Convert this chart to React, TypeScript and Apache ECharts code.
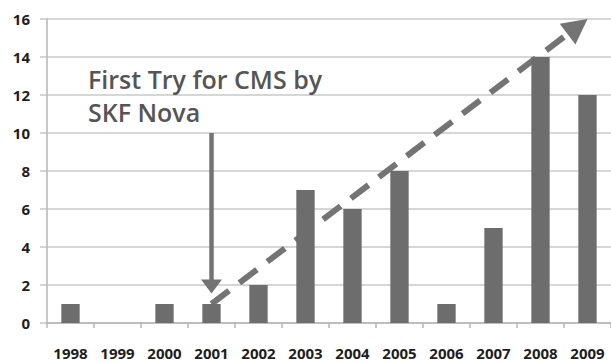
import React, { useEffect, useRef } from "react";
import * as echarts from "echarts";

const years = ["1998", "1999", "2000", "2001", "2002", "2003", "2004", "2005", "2006", "2007", "2008", "2009"];
const counts = [1, 0, 1, 1, 2, 7, 6, 8, 1, 5, 14, 12];
const yTicks = { min: 0, max: 16, interval: 2 };

// annotation anchors, in data units
const noteLines = ["First Try for CMS by", "SKF Nova"];
const pointerFrom: [string, number] = ["2001", 10];
const pointerTip: [string, number] = ["2001", 1.55];
const trendFrom: [string, number] = ["2001", 1];
const trendTo: [string, number] = ["2009", 16];

const BAR = "#6d6d6d";
const ARROW = "#747474";

export default function App() {
  const ref = useRef<HTMLDivElement>(null);

  useEffect(() => {
    document.body.style.margin = "0";
    const chart = echarts.init(ref.current!, null, { renderer: "svg" });
    chart.setOption({
      animation: false,
      grid: { left: 47, right: 0, top: 19, bottom: 40 },
      xAxis: {
        type: "category",
        data: years,
        axisLine: { lineStyle: { color: "#b4b4b4", width: 1.5 } },
        axisTick: { show: true, length: 5, lineStyle: { color: "#b4b4b4", width: 1.5 } },
        axisLabel: {
          margin: 22,
          color: "#1e1e1e",
          fontFamily: "Open Sans",
          fontWeight: "bold",
          fontSize: 15,
        },
      },
      yAxis: {
        type: "value",
        min: yTicks.min,
        max: yTicks.max,
        interval: yTicks.interval,
        axisLine: { show: true, lineStyle: { color: "#b4b4b4", width: 1.5 } },
        axisTick: { show: true, length: 7, lineStyle: { color: "#c4c4c4", width: 1.5 } },
        splitLine: { lineStyle: { color: "#c8c8c8", width: 1.5 } },
        axisLabel: {
          margin: 17,
          color: "#1e1e1e",
          fontFamily: "Open Sans",
          fontWeight: "bold",
          fontSize: 15,
        },
      },
      series: [
        {
          type: "bar",
          data: counts,
          barWidth: "39%",
          itemStyle: { color: BAR },
        },
      ],
    });

    const px = (p: [string, number]) => chart.convertToPixel({ gridIndex: 0 }, p) as number[];

    // vertical pointer
    const pf = px(pointerFrom);
    const pt = px(pointerTip);
    const headLen = 14;
    const headHalf = 10.5;

    // dashed trend arrow
    const a = px(trendFrom);
    const b = px(trendTo);
    const dx = b[0] - a[0];
    const dy = b[1] - a[1];
    const len = Math.sqrt(dx * dx + dy * dy);
    const ux = dx / len;
    const uy = dy / len;
    const tHead = 25;
    const tHalf = 13;
    const base = [b[0] - ux * tHead, b[1] - uy * tHead];

    chart.setOption({
      graphic: [
        {
          type: "text",
          left: 88,
          top: 62,
          style: {
            text: noteLines.join("\n"),
            font: "600 25px 'Open Sans'",
            lineHeight: 33,
            fill: "#555555",
          },
        },
        {
          type: "line",
          shape: { x1: pf[0], y1: pf[1], x2: pt[0], y2: pt[1] - headLen + 1 },
          style: { stroke: ARROW, lineWidth: 4.5 },
        },
        {
          type: "polygon",
          shape: {
            points: [
              [pt[0] - headHalf, pt[1] - headLen],
              [pt[0] + headHalf, pt[1] - headLen],
              [pt[0], pt[1]],
            ],
          },
          style: { fill: ARROW },
        },
        {
          type: "line",
          shape: { x1: a[0], y1: a[1], x2: base[0], y2: base[1] },
          style: { stroke: ARROW, lineWidth: 6, lineDash: [22, 13] },
        },
        {
          type: "polygon",
          shape: {
            points: [
              [base[0] - uy * tHalf, base[1] + ux * tHalf],
              [base[0] + uy * tHalf, base[1] - ux * tHalf],
              [b[0], b[1]],
            ],
          },
          style: { fill: ARROW },
        },
      ],
    });

    return () => chart.dispose();
  }, []);

  return <div ref={ref} style={{ width: 611, height: 363 }} />;
}
